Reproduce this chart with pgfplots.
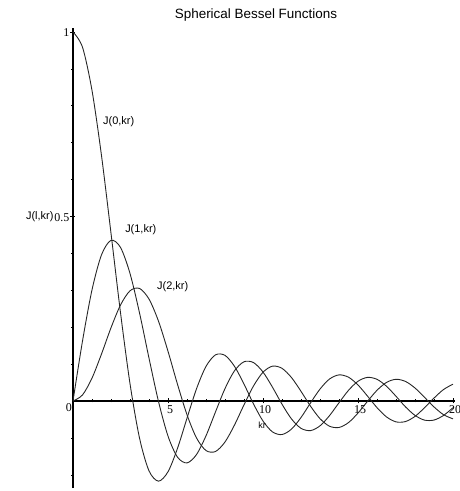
\documentclass[border=0pt]{standalone}
\usepackage{pgfplots}
\pgfplotsset{compat=1.18}
\usepackage{fontspec}
\setmainfont{Liberation Sans}
\newfontfamily\tickfont{Liberation Serif}
\begin{document}
\begin{tikzpicture}
\begin{axis}[
  x=19bp, y=369bp,
  axis lines=middle,
  axis line style={black, line width=1.1pt, -},
  xmin=0, xmax=20.1, ymin=-0.236, ymax=1.01,
  xtick={5,10,15,20}, ytick={0.5,1},
  minor xtick={1,2,3,4,6,7,8,9,11,12,13,14,16,17,18,19},
  minor ytick={-0.2,-0.1,0.1,0.2,0.3,0.4,0.6,0.7,0.8,0.9},
  tick align=center,
  major tick length=5bp, minor tick length=3bp,
  tick style={black, line width=0.6pt},
  xticklabel style={font=\fontsize{12}{13}\tickfont, yshift=1bp, xshift=2bp},
  yticklabel style={font=\fontsize{12}{13}\tickfont, inner sep=1bp, yshift=-1bp},
  /pgf/number format/assume math mode=true,
  clip=false,
]
\addplot[black!85, line width=0.9pt, smooth] coordinates {
(0,1) (0.5,0.958851) (1,0.841471) (1.5,0.664997) (2,0.454649) (2.5,0.239389)
(3,0.047040) (3.5,-0.100224) (4,-0.189201) (4.5,-0.217229) (5,-0.191785)
(5.5,-0.128280) (6,-0.046569) (6.5,0.033095) (7,0.093855) (7.5,0.125067)
(8,0.123670) (8.5,0.093940) (9,0.045791) (9.5,-0.007911) (10,-0.054402)
(10.5,-0.083781) (11,-0.090908) (11.5,-0.076126) (12,-0.044714) (12.5,-0.005306)
(13,0.032321) (13.5,0.059540) (14,0.070758) (14.5,0.064476) (15,0.043353)
(15.5,0.013320) (16,-0.017994) (16.5,-0.043171) (17,-0.056553) (17.5,-0.055694)
(18,-0.041722) (18.5,-0.018288) (19,0.007888) (19.5,0.031053) (20,0.045647)
};
\addplot[black!85, line width=0.9pt, smooth] coordinates {
(0,0) (0.5,0.162537) (1,0.301169) (1.5,0.396173) (2,0.435398) (2.5,0.416213)
(3,0.345677) (3.5,0.238924) (4,0.116111) (4.5,-0.001430) (5,-0.095089)
(5.5,-0.152173) (6,-0.167790) (6.5,-0.145153) (7,-0.094292) (7.5,-0.029542)
(8,0.033646) (8.5,0.081877) (9,0.106325) (9.5,0.104133) (10,0.078467)
(10.5,0.037310) (11,-0.008667) (11.5,-0.048646) (12,-0.074047) (12.5,-0.080248)
(13,-0.067317) (13.5,-0.039658) (14,-0.004713) (14.5,0.028924) (15,0.053536)
(15.5,0.063985) (16,0.058729) (16.5,0.039922) (17,0.012859) (17.5,-0.015969)
(18,-0.039002) (18.5,-0.051855) (19,-0.051622) (19.5,-0.039219) (20,-0.018122)
};
\addplot[black!85, line width=0.9pt, smooth] coordinates {
(0,0) (0.5,0.016371) (1,0.062036) (1.5,0.127349) (2,0.198448) (2.5,0.260067)
(3,0.298637) (3.5,0.305016) (4,0.276284) (4.5,0.216276) (5,0.134732)
(5.5,0.045276) (6,-0.037326) (6.5,-0.100089) (7,-0.134266) (7.5,-0.136884)
(8,-0.111053) (8.5,-0.065042) (9,-0.010349) (9.5,0.040795) (10,0.077942)
(10.5,0.094441) (11,0.088544) (11.5,0.063436) (12,0.026202) (12.5,-0.013954)
(13,-0.047856) (13.5,-0.068353) (14,-0.071768) (14.5,-0.058492) (15,-0.032646)
(15.5,-0.000936) (16,0.029006) (16.5,0.050430) (17,0.058822) (17.5,0.052956)
(18,0.035222) (18.5,0.009879) (19,-0.016039) (19.5,-0.037087) (20,-0.048365)
};
\node[anchor=north east, font=\fontsize{12}{13}\tickfont, inner sep=1bp] at (axis cs:0,-0.005) {0};
\node[anchor=east, font=\fontsize{11}{12}\selectfont, inner sep=0pt] at (axis cs:-1.02,0.5) {J(l,kr)};
\node[anchor=west, font=\fontsize{11}{12}\selectfont, inner sep=0pt] at (axis cs:1.58,0.756) {J(0,kr)};
\node[anchor=west, font=\fontsize{11}{12}\selectfont, inner sep=0pt] at (axis cs:2.74,0.463) {J(1,kr)};
\node[anchor=west, font=\fontsize{11}{12}\selectfont, inner sep=0pt] at (axis cs:4.42,0.309) {J(2,kr)};
\node[font=\fontsize{9}{10}\selectfont, inner sep=0pt] at (axis cs:9.95,-0.065) {kr};
\node[font=\fontsize{13.5}{15}\selectfont, inner sep=0pt] at (axis cs:9.63,1.046) {Spherical Bessel Functions};
\coordinate (bl) at (axis cs:-3.842,-0.2439);
\coordinate (tr) at (axis cs:20.368,1.0867);
\end{axis}
\pgfresetboundingbox
\path (bl) rectangle (tr);
\end{tikzpicture}
\end{document}
